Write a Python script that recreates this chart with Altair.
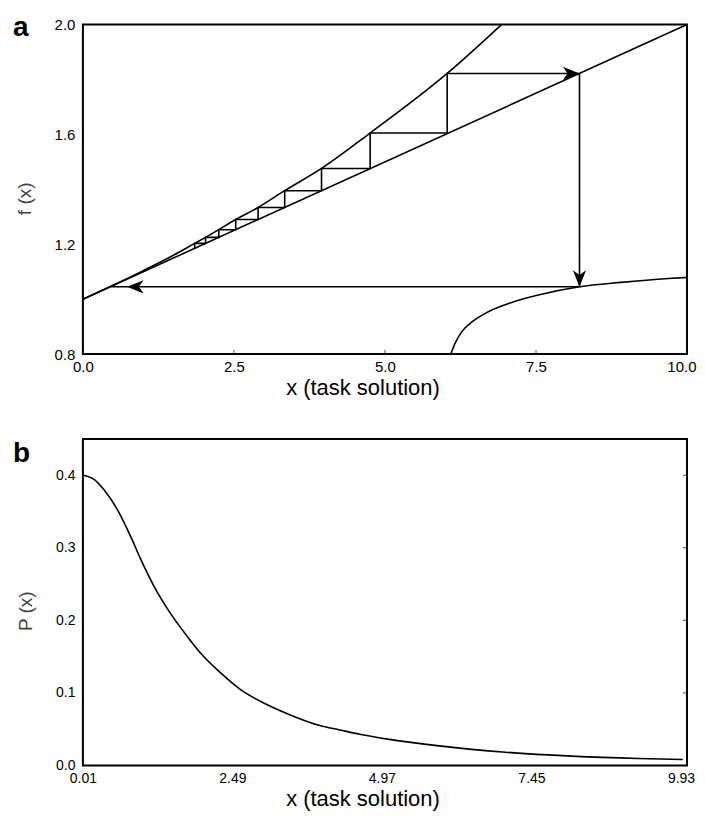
import altair as alt
import pandas as pd

# ---------------- Panel a ----------------
line_x = [0.0, 10.0]
line_y = [1.0, 2.0]

upper_x = [0.0, 0.5, 1.0, 1.5, 1.85, 2.03, 2.25, 2.53, 2.90, 3.34, 3.95, 4.755, 6.03, 6.93]
upper_y = [1.0, 1.051, 1.104, 1.160, 1.203, 1.225, 1.253, 1.290, 1.334, 1.395, 1.476, 1.605, 1.822, 2.0]

lower_x = [6.09, 6.16, 6.27, 6.44, 6.71, 7.10, 7.54, 8.22, 8.91, 9.69, 10.0]
lower_y = [0.80, 0.839, 0.881, 0.917, 0.954, 0.988, 1.015, 1.045, 1.061, 1.075, 1.079]

stair_x = [1.85, 1.85, 2.03, 2.03, 2.25, 2.25, 2.53, 2.53, 2.90, 2.90, 3.34, 3.34,
           3.95, 3.95, 4.755, 4.755, 6.03, 6.03, 8.22, 8.22, 0.47]
stair_y = [1.185, 1.203, 1.203, 1.225, 1.225, 1.253, 1.253, 1.290, 1.290, 1.334, 1.334, 1.395,
           1.395, 1.476, 1.476, 1.605, 1.605, 1.822, 1.822, 1.045, 1.045]

arrow_x = [8.22, 8.22, 0.73]
arrow_y = [1.822, 1.045, 1.045]
arrow_angle = [0, 90, 180]

a_xticks = [0.0, 2.5, 5.0, 7.5, 10.0]
a_yticks = [0.8, 1.2, 1.6, 2.0]

# ---------------- Panel b ----------------
pb_x = [0.01, 0.20, 0.36, 0.58, 0.80, 0.97, 1.19, 1.46, 1.74, 1.96, 2.29, 2.62, 3.06,
        3.50, 3.94, 4.27, 4.60, 5.09, 5.92, 7.02, 8.12, 9.22, 9.96]
pb_y = [0.400, 0.394, 0.380, 0.353, 0.316, 0.284, 0.247, 0.210, 0.178, 0.155, 0.128,
        0.105, 0.084, 0.068, 0.055, 0.049, 0.043, 0.036, 0.027, 0.0183, 0.0129, 0.0096, 0.0083]

b_xticks = [0.01, 2.49, 4.97, 7.45, 9.93]
b_yticks = [0.0, 0.1, 0.2, 0.3, 0.4]

FONT = "Liberation Sans"
ARROW = "M0,0L-1,-0.4L-0.72,0L-1,0.4Z"
W = 605


def x_axis(values, fmt, label_size, label_pad, title_y, last=None):
    kw = {}
    if last is not None:
        kw["labelAlign"] = {"condition": {"test": "datum.value >= %s" % last, "value": "right"},
                            "value": "center"}
        kw["labelOffset"] = {"condition": {"test": "datum.value >= %s" % last, "value": 9},
                             "value": 0}
    return alt.Axis(values=values, format=fmt, title="x (task solution)", domain=False,
                    ticks=False, grid=False, labelFlush=False, labelFont=FONT,
                    labelFontSize=label_size, labelColor="#000", labelPadding=label_pad,
                    titleFont=FONT, titleFontSize=22, titleFontWeight="normal",
                    titleColor="#000", titleX=280, titleY=title_y,
                    titleAlign="center", titleBaseline="alphabetic", **kw)


def y_axis(title, values, label_size, title_y):
    return alt.Axis(values=values, format=".1f", title=title, domain=False, ticks=False,
                    grid=False, labelFlush=False, labelFont=FONT, labelFontSize=label_size,
                    labelColor="#000", labelPadding=8, titleFont=FONT, titleFontSize=19,
                    titleFontWeight="normal", titleColor="#444", titlePadding=20,
                    titleY=title_y)


# ---------- panel a ----------
xa = alt.X("x:Q", scale=alt.Scale(domain=[0, 10], nice=False, zero=False),
           axis=x_axis(a_xticks, ".1f", 15, 5, 40, last=10))
ya = alt.Y("y:Q", scale=alt.Scale(domain=[0.8, 2.0], nice=False, zero=False),
           axis=y_axis("f (x)", a_yticks, 15, 174))

df_line = pd.DataFrame({"x": line_x, "y": line_y})
df_up = pd.DataFrame({"x": upper_x, "y": upper_y})
df_low = pd.DataFrame({"x": lower_x, "y": lower_y})
df_st = pd.DataFrame({"x": stair_x, "y": stair_y, "o": list(range(len(stair_x)))})
df_ar = pd.DataFrame({"x": arrow_x, "y": arrow_y, "ang": arrow_angle})
df_atick = pd.DataFrame({"x": a_xticks[1:-1], "y": [0.8] * 3})

lw = 1.6
a_line = alt.Chart(df_line).mark_line(color="black", strokeWidth=lw).encode(x=xa, y=ya)
a_up = alt.Chart(df_up).mark_line(color="black", strokeWidth=lw, interpolate="monotone").encode(x=xa, y=ya)
a_low = alt.Chart(df_low).mark_line(color="black", strokeWidth=lw, interpolate="monotone").encode(x=xa, y=ya)
a_st = alt.Chart(df_st).mark_line(color="black", strokeWidth=lw).encode(x=xa, y=ya, order="o:Q")
a_ar = alt.Chart(df_ar).mark_point(shape=ARROW, filled=True, color="black", opacity=1,
                                   size=1100).encode(
    x=xa, y=ya, angle=alt.Angle("ang:Q", scale=None))
a_tk = alt.Chart(df_atick).mark_tick(color="black", orient="vertical", size=8, thickness=1,
                                     clip=True).encode(x=xa, y=ya)
a_lab = alt.Chart(pd.DataFrame({"t": ["a"]})).mark_text(
    align="left", baseline="alphabetic", fontSize=28, fontWeight="bold", font=FONT,
    color="black").encode(x=alt.value(-70), y=alt.value(11), text="t:N")

panel_a = alt.layer(a_line, a_up, a_low, a_st, a_ar, a_tk, a_lab).properties(width=W, height=330)

# ---------- panel b ----------
xb = alt.X("x:Q", scale=alt.Scale(domain=[0.01, 10.03], nice=False, zero=False),
           axis=x_axis(b_xticks, ".2f", 14, 6, 40))
yb = alt.Y("y:Q", scale=alt.Scale(domain=[0.0, 0.45], nice=False, zero=False),
           axis=y_axis("P (x)", b_yticks, 14, 172))

df_pb = pd.DataFrame({"x": pb_x, "y": pb_y})
df_btick = pd.DataFrame({"x": [10.03] * 4, "y": b_yticks[1:]})

b_curve = alt.Chart(df_pb).mark_line(color="black", strokeWidth=lw, interpolate="monotone").encode(x=xb, y=yb)
b_tk = alt.Chart(df_btick).mark_tick(color="black", orient="horizontal", size=8, thickness=1,
                                     clip=True).encode(x=xb, y=yb)
b_lab = alt.Chart(pd.DataFrame({"t": ["b"]})).mark_text(
    align="left", baseline="alphabetic", fontSize=28, fontWeight="bold", font=FONT,
    color="black").encode(x=alt.value(-70), y=alt.value(23), text="t:N")

panel_b = alt.layer(b_curve, b_tk, b_lab).properties(width=W, height=327)

chart = alt.vconcat(panel_a, panel_b, spacing=39).properties(
    padding={"left": 4, "top": 4, "right": 0, "bottom": 0}
).configure(font=FONT, background="white").configure_view(stroke="black", strokeWidth=2)

chart.save("out.html", embed_options={"renderer": "svg", "actions": False})
